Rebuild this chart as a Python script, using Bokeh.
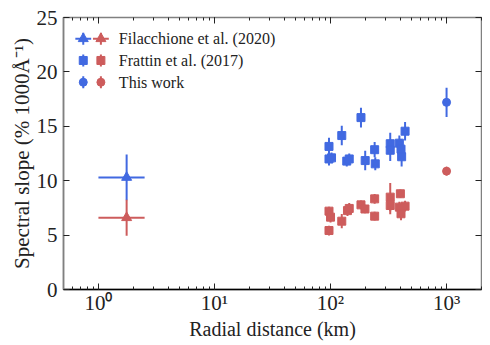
import numpy as np
from bokeh.plotting import figure
from bokeh.models import (ColumnDataSource, Range1d, LogAxis, LinearAxis,
                          FixedTicker, LogTicker)
from bokeh.core.properties import value
from bokeh.embed import file_html
from bokeh.resources import INLINE

BLUE = "#4169E1"
RED = "#CD5C5C"
FONT = "'Liberation Serif', serif"

# ---------------- data ----------------
# Filacchione et al. (2020)
fil_x = [1.75]
fil_xerr = [0.75]
fil_blue_y = [10.3]
fil_blue_yerr = [2.1]
fil_red_y = [6.6]
fil_red_yerr = [1.65]

# Frattin et al. (2017)
fr_blue_x = [97, 97, 102, 125, 138, 145, 183, 199, 240, 243, 327, 327, 392, 405, 410, 439]
fr_blue_y = [13.15, 12.0, 12.1, 14.15, 11.8, 12.0, 15.8, 11.85, 12.85, 11.55, 13.4, 12.8, 13.45, 12.9, 12.2, 14.55]
fr_blue_err = [0.8, 0.6, 0.5, 0.9, 0.5, 0.5, 0.9, 0.9, 0.7, 0.6, 1.0, 1.0, 0.7, 0.9, 0.9, 0.85]

fr_red_x = [97, 100, 97, 125, 140, 145, 183, 198, 240, 240, 327, 327, 400, 392, 405, 439]
fr_red_y = [7.2, 6.65, 5.42, 6.28, 7.25, 7.45, 7.78, 7.4, 8.33, 6.74, 8.49, 7.72, 8.8, 7.57, 6.96, 7.66]
fr_red_err = [0.4, 0.5, 0.45, 0.65, 0.5, 0.5, 0.4, 0.4, 0.45, 0.4, 1.3, 0.8, 0.4, 0.5, 0.6, 0.5]

# This work
tw_x = [1000]
tw_blue_y = [17.2]
tw_blue_err = [1.35]
tw_red_y = [10.88]
tw_red_err = [0.4]

legend_labels = ["Filacchione et al. (2020)", "Frattin et al. (2017)", "This work"]
x_tick_labels = {1: "10\u2070", 10: "10\u00b9", 100: "10\u00b2", 1000: "10\u00b3"}
y_ticks = [0, 5, 10, 15, 20, 25]

# ---------------- figure ----------------
p = figure(x_axis_type="log", x_range=Range1d(0.5, 2000), y_range=Range1d(0, 25),
           frame_width=418, frame_height=272, min_border_left=63, min_border_top=17,
           min_border_right=1, min_border_bottom=5,
           output_backend="svg", toolbar_location=None, background_fill_color="white")
p.xgrid.visible = False
p.ygrid.visible = False
p.outline_line_color = "#808080"
p.outline_line_width = 1.5


def vsrc(x, y, e):
    x = np.array(x, float); y = np.array(y, float); e = np.array(e, float)
    return ColumnDataSource(dict(x=x, y=y, lo=y - e, hi=y + e))


# Filacchione: error bars (x and y) + triangles
for y, ye, col in [(fil_blue_y, fil_blue_yerr, BLUE), (fil_red_y, fil_red_yerr, RED)]:
    x = np.array(fil_x, float); xe = np.array(fil_xerr, float)
    yy = np.array(y, float); e = np.array(ye, float)
    src = ColumnDataSource(dict(x=x, y=yy, lo=yy - e, hi=yy + e, xl=x - xe, xh=x + xe))
    p.segment(x0="xl", y0="y", x1="xh", y1="y", source=src, line_color=col, line_width=2)
    p.segment(x0="x", y0="lo", x1="x", y1="hi", source=src, line_color=col, line_width=2)
    p.scatter("x", "y", source=src, marker="triangle", size=10, color=col)

# Frattin: squares
for x, y, e, col in [(fr_blue_x, fr_blue_y, fr_blue_err, BLUE), (fr_red_x, fr_red_y, fr_red_err, RED)]:
    src = vsrc(x, y, e)
    p.segment(x0="x", y0="lo", x1="x", y1="hi", source=src, line_color=col, line_width=2)
    p.scatter("x", "y", source=src, marker="square", size=8, color=col)

# This work: circles
for y, e, col in [(tw_blue_y, tw_blue_err, BLUE), (tw_red_y, tw_red_err, RED)]:
    src = vsrc(tw_x, y, e)
    p.segment(x0="x", y0="lo", x1="x", y1="hi", source=src, line_color=col, line_width=2)
    p.scatter("x", "y", source=src, marker="circle", size=8, color=col)

# ---------------- manual legend ----------------
leg_mx = [0.74, 1.05]
leg_tx = 1.5
leg_y = [23.05, 21.05, 19.05]
leg_markers = ["triangle", "square", "circle"]
leg_msize = [10, 8, 8]
vh = 0.55
hf = 1.17
for i, (ly, mk, ms) in enumerate(zip(leg_y, leg_markers, leg_msize)):
    for mx, col in zip(leg_mx, [BLUE, RED]):
        s = ColumnDataSource(dict(x=[mx], y=[ly], lo=[ly - vh], hi=[ly + vh],
                                  xl=[mx / hf], xh=[mx * hf]))
        if i == 0:
            p.segment(x0="xl", y0="y", x1="xh", y1="y", source=s, line_color=col, line_width=2)
        p.segment(x0="x", y0="lo", x1="x", y1="hi", source=s, line_color=col, line_width=2)
        p.scatter("x", "y", source=s, marker=mk, size=ms, color=col)
p.text(x=[leg_tx] * 3, y=leg_y, text=legend_labels, text_font=value(FONT),
       text_font_size="16px", text_baseline="middle", text_color="#222222")

# ---------------- axes ----------------
xa = p.xaxis[0]
xa.axis_label = "Radial distance (km)"
xa.major_label_overrides = x_tick_labels
xa.ticker = LogTicker(num_minor_ticks=10)
ya = p.yaxis[0]
ya.axis_label = "Spectral slope (% 1000\u00c5\u207b\u00b9)"
ya.ticker = FixedTicker(ticks=y_ticks, minor_ticks=[])

for ax in [xa, ya]:
    ax.axis_label_text_font = FONT
    ax.axis_label_text_font_style = "normal"
    ax.axis_label_text_color = "#222222"
    ax.major_label_text_font = FONT
    ax.major_label_text_font_size = "21px"
    ax.major_label_text_color = "#222222"
    ax.major_tick_in = 6
    ax.major_tick_out = 0
    ax.minor_tick_in = 3
    ax.minor_tick_out = 0
    ax.major_tick_line_color = "#222222"
    ax.minor_tick_line_color = "#222222"
    ax.axis_label_standoff = 0
xa.axis_label_text_font_size = "20px"
ya.axis_label_text_font_size = "21px"
xa.major_label_standoff = 1
ya.major_label_standoff = 6
xa.axis_line_color = "black"
ya.axis_line_color = "#808080"
ya.axis_line_width = 1.5
xa.axis_line_width = 1.5

top = LogAxis(ticker=LogTicker(num_minor_ticks=10), major_label_text_font_size="1px",
              major_label_text_color=None,
              major_tick_in=6, major_tick_out=0, minor_tick_in=3, minor_tick_out=0,
              axis_line_color=None, major_label_standoff=0,
              major_tick_line_color="#222222", minor_tick_line_color="#222222")
p.add_layout(top, "above")
right = LinearAxis(ticker=FixedTicker(ticks=y_ticks, minor_ticks=[]),
                   major_label_text_font_size="1px", major_label_text_color=None,
                   major_tick_in=6, major_tick_out=0,
                   axis_line_color=None, major_label_standoff=0,
                   major_tick_line_color="#222222")
p.add_layout(right, "right")

open("out.html", "w").write(file_html(p, INLINE))
